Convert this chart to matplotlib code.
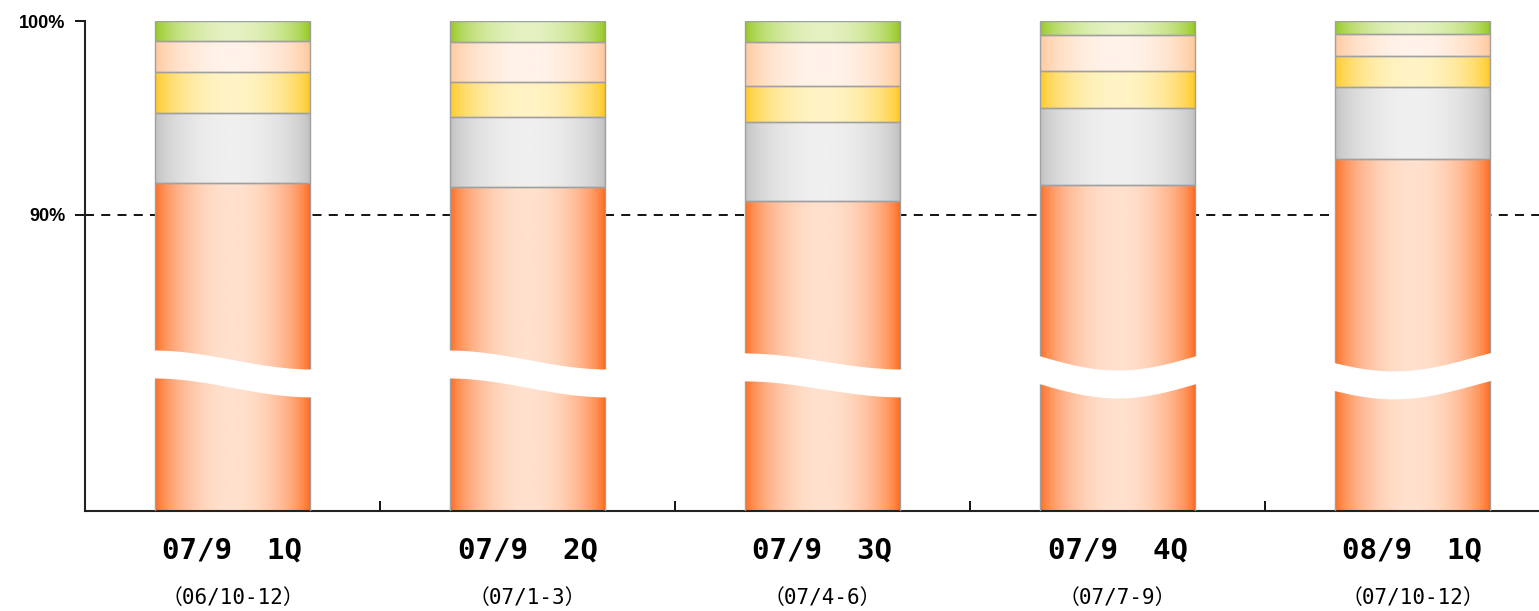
import numpy as np
import matplotlib.pyplot as plt
from matplotlib.colors import LinearSegmentedColormap
from matplotlib.transforms import blended_transform_factory


# 期間ラベル
periods = ['07/9  1Q', '07/9  2Q', '07/9  3Q', '07/9  4Q', '08/9  1Q']
months = ['（06/10-12）', '（07/1-3）', '（07/4-6）', '（07/7-9）', '（07/10-12）']

# 構成比 (%)
orange = [91.65, 91.44, 90.72, 91.55, 92.89]
grey = [3.61, 3.61, 4.07, 3.97, 3.71]
yellow = [2.11, 1.81, 1.86, 1.90, 1.60]
peach = [1.60, 2.06, 2.27, 1.86, 1.13]
green = [1.03, 1.08, 1.08, 0.72, 0.67]

# 省略線 (左端, 右端, 中央のふくらみ)
break_left = [83.04, 83.04, 82.89, 82.78, 82.42]
break_right = [82.06, 82.06, 82.06, 82.78, 82.94]
break_bow = [0.0, 0.0, 0.0, -0.77, -0.67]
break_gap = 1.44

layers = [orange, grey, yellow, peach, green]
colours = [('#FF6414', '#FFE1CE'),
           ('#BEBEBE', '#F0F0F0'),
           ('#FFC619', '#FFF4C6'),
           ('#FFC596', '#FFF3EA'),
           ('#8FC615', '#E4F1C1')]

# 横方向のグラデーション (端が濃く、中央が淡い)
t = np.linspace(0, 1, 256)
profile = (np.sin(np.pi * t) ** 0.6)[np.newaxis, :]

fig = plt.figure(figsize=(15.39, 6.11), dpi=100)
ax = fig.add_axes([85 / 1539, 100 / 611, 1475 / 1539, 490 / 611])

x = np.arange(len(periods))
width = 0.525
bottom = np.zeros(len(periods))
for vals, (edge, centre) in zip(layers, colours):
    bars = ax.bar(x, vals, width, bottom=bottom, facecolor='none',
                  edgecolor='#A0A0A0', linewidth=1, zorder=3)
    cmap = LinearSegmentedColormap.from_list('grad', [edge, centre])
    for b in bars:
        x0, y0 = b.get_x(), b.get_y()
        ax.imshow(profile, cmap=cmap, vmin=0, vmax=1, aspect='auto',
                  interpolation='bilinear', zorder=2,
                  extent=[x0, x0 + b.get_width(), y0, y0 + b.get_height()])
    bottom += np.array(vals)

# 波形の省略線
for i in range(len(periods)):
    s = np.linspace(0, 1, 120)
    ease = (1 - np.cos(np.pi * s)) / 2
    ytop = (break_left[i] * (1 - ease) + break_right[i] * ease
            + break_bow[i] * np.sin(np.pi * s))
    xs = x[i] - width / 2 - 0.01 + s * (width + 0.02)
    ax.fill_between(xs, ytop - break_gap, ytop, color='white',
                    linewidth=0, zorder=4)

ax.axhline(90, color='black', linewidth=1.3, dashes=(5, 4), zorder=1)

ax.set_xlim(-0.5, 4.5)
ax.set_ylim(74.74, 100)

for side in ['top', 'right']:
    ax.spines[side].set_visible(False)
for side in ['left', 'bottom']:
    ax.spines[side].set_linewidth(1.5)
    ax.spines[side].set_color('#222222')

ax.set_yticks([90, 100])
ax.set_yticklabels(['90%', '100%'], fontsize=13, fontweight='bold',
                   family='Liberation Sans')
ax.tick_params(axis='y', direction='out', length=7, width=1.3, pad=7)

ax.set_xticks(x)
ax.set_xticklabels([])
ax.tick_params(axis='x', which='major', length=0)
ax.set_xticks(x[:-1] + 0.5, minor=True)
ax.tick_params(axis='x', which='minor', direction='in', length=7, width=1.3)

trans = blended_transform_factory(ax.transData, ax.transAxes)
for i in range(len(periods)):
    ax.text(x[i], -0.08, periods[i], transform=trans, ha='center',
            va='center', fontsize=21, fontweight='bold',
            family=['DejaVu Sans Mono', 'Noto Sans CJK JP'])
    ax.text(x[i], -0.178, months[i], transform=trans, ha='center',
            va='center', fontsize=15,
            family=['DejaVu Sans Mono', 'Noto Sans CJK JP'])

fig.savefig('out.png', dpi=100)
